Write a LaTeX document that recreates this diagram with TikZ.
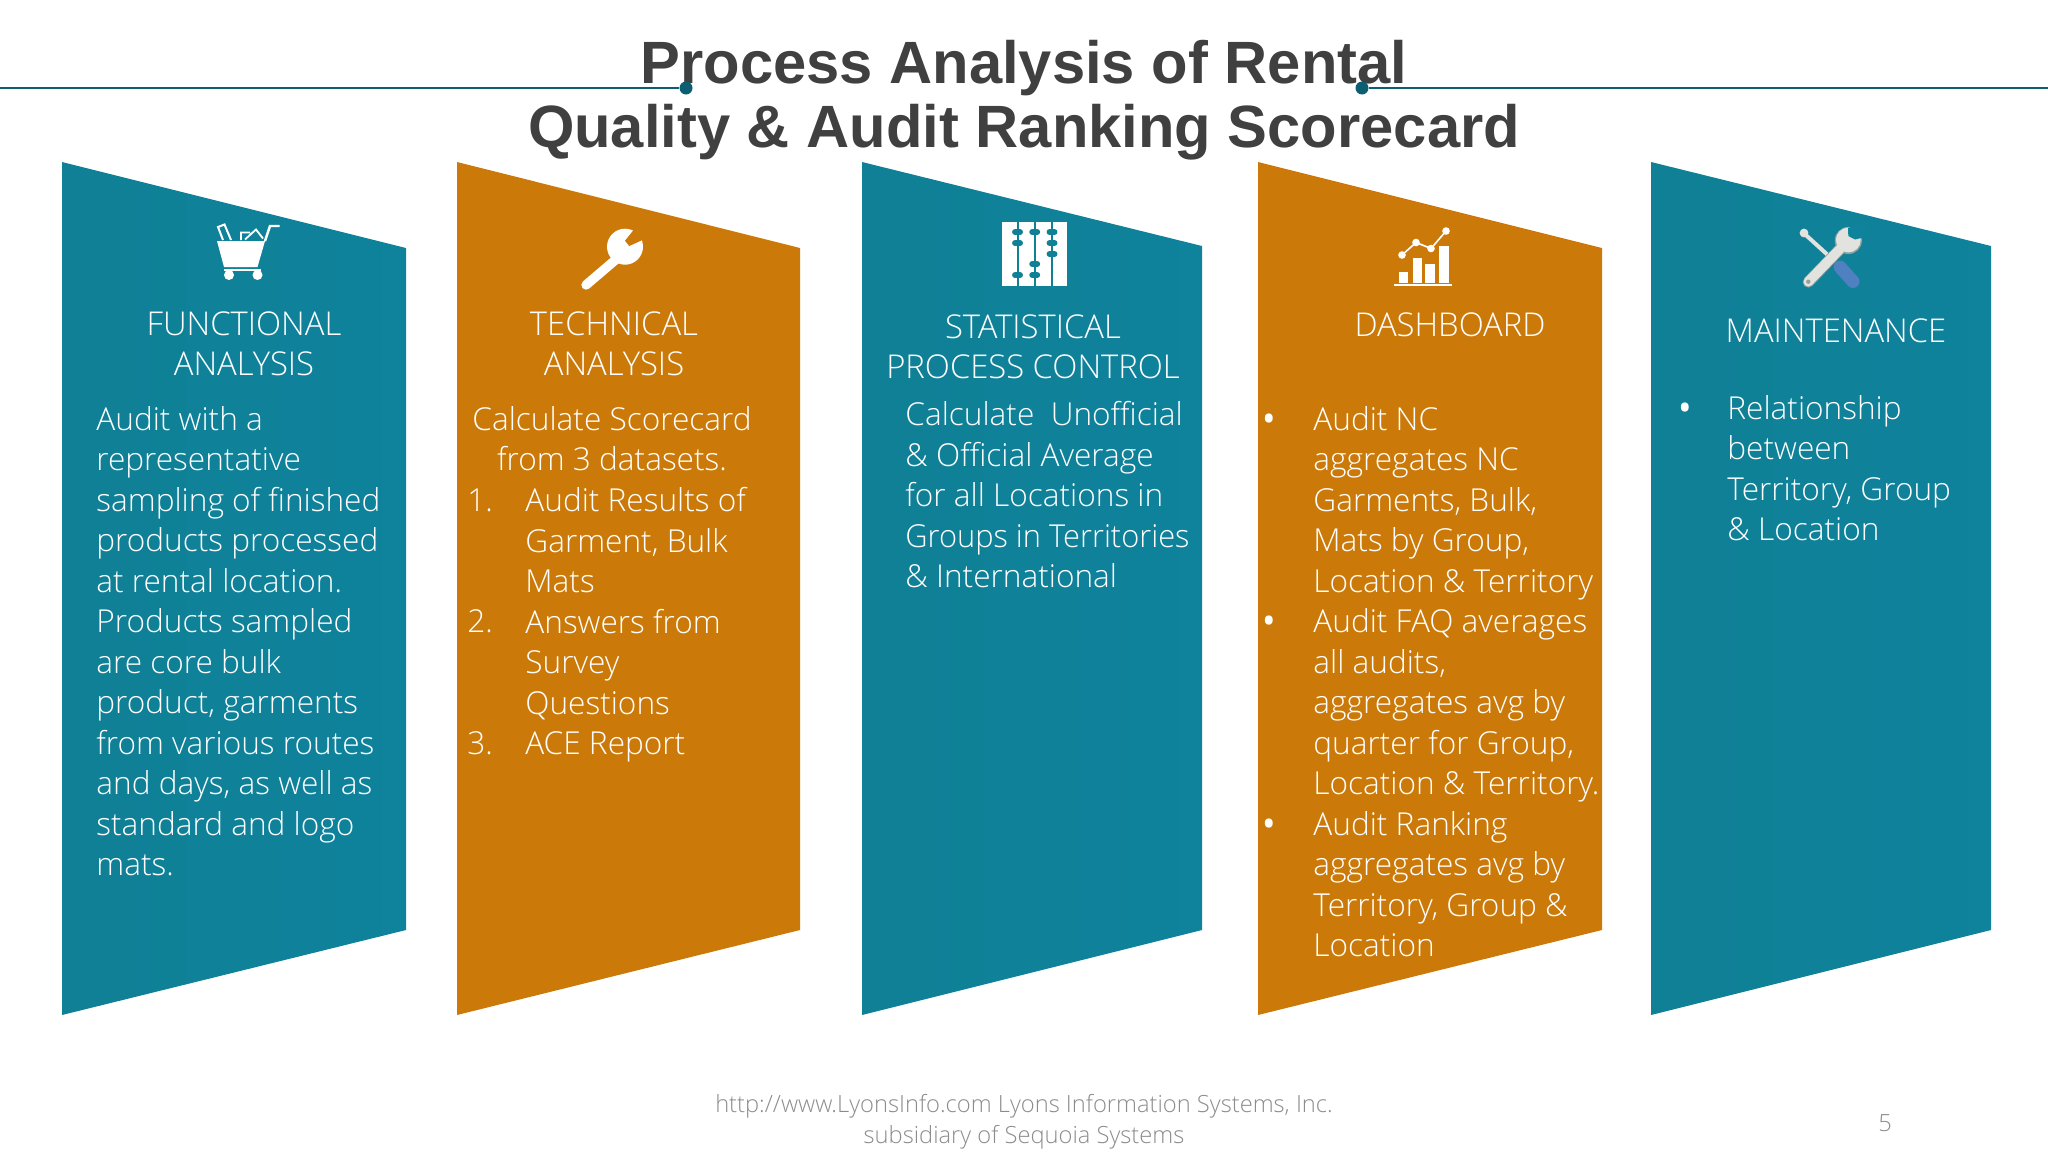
\documentclass[tikz,border=0pt]{standalone}
\usepackage{fontspec}
\setmainfont{Open Sans Light}
\newfontfamily\titlefont{Liberation Sans}
\definecolor{tealA}{HTML}{0F8095}
\definecolor{tealB}{HTML}{0F829C}
\definecolor{orangeA}{HTML}{CB7A0A}
\definecolor{lineteal}{HTML}{0B5F70}
\definecolor{titlegray}{HTML}{404040}
\definecolor{footgray}{HTML}{8C8C8C}
\definecolor{steel}{HTML}{E2E2DE}
\definecolor{steeldark}{HTML}{8FA3A3}
\definecolor{handleblue}{HTML}{4F80C0}
\newcommand{\fl}{\rule{0pt}{12pt}}
\newcommand{\bul}{\raisebox{-3.4pt}{\fontsize{26}{20}\selectfont •}}
\tikzset{
  x=0.5pt,y=-0.5pt,
  tealpanel/.style={left color=tealA,right color=tealB,draw=none},
  orangepanel/.style={fill=orangeA,draw=none},
  headtext/.style={text=white,inner sep=0pt,anchor=north,align=center,font=\fontsize{16.4}{20.4}\selectfont},
  bodytext/.style={text=white,inner sep=0pt,anchor=north west,align=left,font=\fontsize{15.8}{20.25}\selectfont},
  bodycenter/.style={bodytext,anchor=north,align=center},
  titletext/.style={text=titlegray,inner sep=0pt,font=\titlefont\bfseries\fontsize{29.85}{32}\selectfont,align=center},
  foottext/.style={text=footgray,inner sep=0pt,align=center,font=\fontsize{11.85}{15.6}\selectfont},
  dot/.style={circle,fill=lineteal,inner sep=0pt,minimum size=6.5pt},
  rule/.style={draw=lineteal,line width=1.3pt},
  icon/.style={fill=white,draw=none},
}
\begin{document}
\begin{tikzpicture}
\useasboundingbox (0,0) rectangle (2048,1152);
% panels
\path[tealpanel] (62,162) -- (406,248) -- (406,930) -- (62,1015) -- cycle;
\path[orangepanel] (457,162) -- (800,248) -- (800,930) -- (457,1015) -- cycle;
\path[tealpanel] (862,162) -- (1202,246) -- (1202,930) -- (862,1015) -- cycle;
\path[orangepanel] (1258,162) -- (1602,248) -- (1602,930) -- (1258,1015) -- cycle;
\path[tealpanel] (1651,162) -- (1991,246) -- (1991,930) -- (1651,1015) -- cycle;
% title and rule
\node[titletext,anchor=north] (title) at (1024,40) {Process Analysis of Rental\\Quality \& Audit Ranking Scorecard};
\coordinate (ruleL) at (0,88);
\coordinate (ruleR) at (2048,88);
\node[dot] (dotL) at (686,88) {};
\node[dot] (dotR) at (1362,88) {};
\draw[rule] (ruleL) -- (dotL);
\draw[rule] (dotR) -- (ruleR);
% cart icon
\fill[icon] (217,241) -- (265,241) -- (257.5,267) -- (224,267) -- cycle;
\draw[white,line width=1.2pt] (265,241) -- (270,226) -- (279.5,226);
\draw[white,line width=1pt] (224,269.5) -- (261,269.5);
\fill[icon] (229,275) circle (2.5pt) (257.5,275) circle (2.5pt);
\draw[white,line width=1pt] (231,240) -- (224.5,224.5) -- (218,227) -- (223,240);
\draw[white,line width=0.9pt] (241,240) -- (241,232.5) -- (250,232.5) (245,239.5) -- (256,229.5) -- (263,238.5);
% wrench icon
\fill[icon] (625,246.7) circle (9pt);
\draw[white,line width=4.7pt,line cap=round] (620,256) -- (586,285);
\fill[orangeA] (635,228.3) -- (625,240.7) -- (629.3,246) -- (644,239.3) -- (650,222) -- cycle;
% abacus icon
\fill[icon] (1002,222) rectangle (1067,286);
\foreach \bx/\ba/\bb/\bc in {1017.5/232/243/275, 1034.7/232/264/275, 1052/232/243/254}{
  \draw[tealA,line width=1pt] (\bx,222) -- (\bx,286);
  \foreach \by in {\ba,\bb,\bc}{
    \fill[tealA,rounded corners=1.2pt] (\bx-5.3,\by-2.8) rectangle (\bx+5.3,\by+2.8);
  }
}
% chart icon
\fill[icon] (1398.5,272) rectangle (1408,283);
\fill[icon] (1412.5,258) rectangle (1422,283);
\fill[icon] (1425,264) rectangle (1435,283);
\fill[icon] (1439,246) rectangle (1449,283);
\draw[white,line width=0.8pt] (1394,285) -- (1452,285);
\draw[white,line width=0.8pt] (1402,255) -- (1416,242.5) -- (1431,248.5) -- (1446,231);
\fill[icon] (1402,255) circle (1.9pt) (1416,242.5) circle (1.9pt) (1431,248.5) circle (1.9pt) (1446,231) circle (1.9pt);
% tools icon
\draw[steel,line width=2pt] (1805,234.3) -- (1830,257);
\fill[steel] (1804,233) circle (2.2pt);
\draw[handleblue,line width=6.5pt,line cap=round] (1840,267) -- (1853,281.5);
\fill[steeldark] (1848.3,240.5) circle (6.8pt);
\draw[steeldark,line width=5.6pt,line cap=round] (1840,249) -- (1808.3,282);
\fill[steel] (1848.3,240) circle (6.2pt);
\draw[steel,line width=4.8pt,line cap=round] (1840,249) -- (1808.3,281.7);
\fill[tealB] (1848,228) -- (1848.3,236) -- (1855,239.5) -- (1862.6,237.6) -- (1868,222) -- cycle;
\fill[steeldark] (1808.3,281.7) circle (1.1pt);
\node[headtext] (h1) at (244,311) {FUNCTIONAL\\ANALYSIS};
\node[headtext] (h2) at (614,311) {TECHNICAL\\ANALYSIS};
\node[headtext] (h3) at (1033,314) {STATISTICAL\\PROCESS CONTROL};
\node[headtext] (h4) at (1450,312) {DASHBOARD};
\node[headtext] (h5) at (1836,318) {MAINTENANCE};
% bodies
\node[bodytext] (b1) at (96,406) {\fl Audit with a\\representative\\sampling of finished\\products processed\\at rental location.\\Products sampled\\are core bulk\\product, garments\\from various routes\\and days, as well as\\standard and logo\\mats.};
\node[bodycenter] (b2a) at (612,406) {\fl Calculate Scorecard\\from 3 datasets.};
\node[bodytext] (b2n) at (467,487) {\fl 1.\\~\\~\\2.\\~\\~\\3.};
\node[bodytext] (b2t) at (525,487) {\fl Audit Results of\\Garment, Bulk\\Mats\\Answers from\\Survey\\Questions\\ACE Report};
\node[bodytext] (b3) at (905,401) {\fl Calculate~ Unofficial\\\& Official Average\\for all Locations in\\\scalebox{0.975}[1]{Groups in Territories}\\\& International};
\node[bodytext] (b4n) at (1259,406) {\fl \bul\\~\\~\\~\\~\\\bul\\~\\~\\~\\~\\\bul};
\node[bodytext] (b4t) at (1313,406) {\fl Audit NC\\aggregates NC\\Garments, Bulk,\\Mats by Group,\\Location \& Territory\\Audit FAQ averages\\all audits,\\aggregates avg by\\quarter for Group,\\Location \& Territory.\\Audit Ranking\\aggregates avg by\\Territory, Group \&\\Location};
\node[bodytext] (b5n) at (1675,395) {\fl \bul};
\node[bodytext] (b5t) at (1727,395) {\fl Relationship\\between\\Territory, Group\\\& Location};
% footer
\node[foottext] (foot) at (1024,1122) {http://www.LyonsInfo.com Lyons Information Systems, Inc.\\subsidiary of Sequoia Systems};
\node[foottext] (page) at (1885,1123) {5};
\end{tikzpicture}
\end{document}
